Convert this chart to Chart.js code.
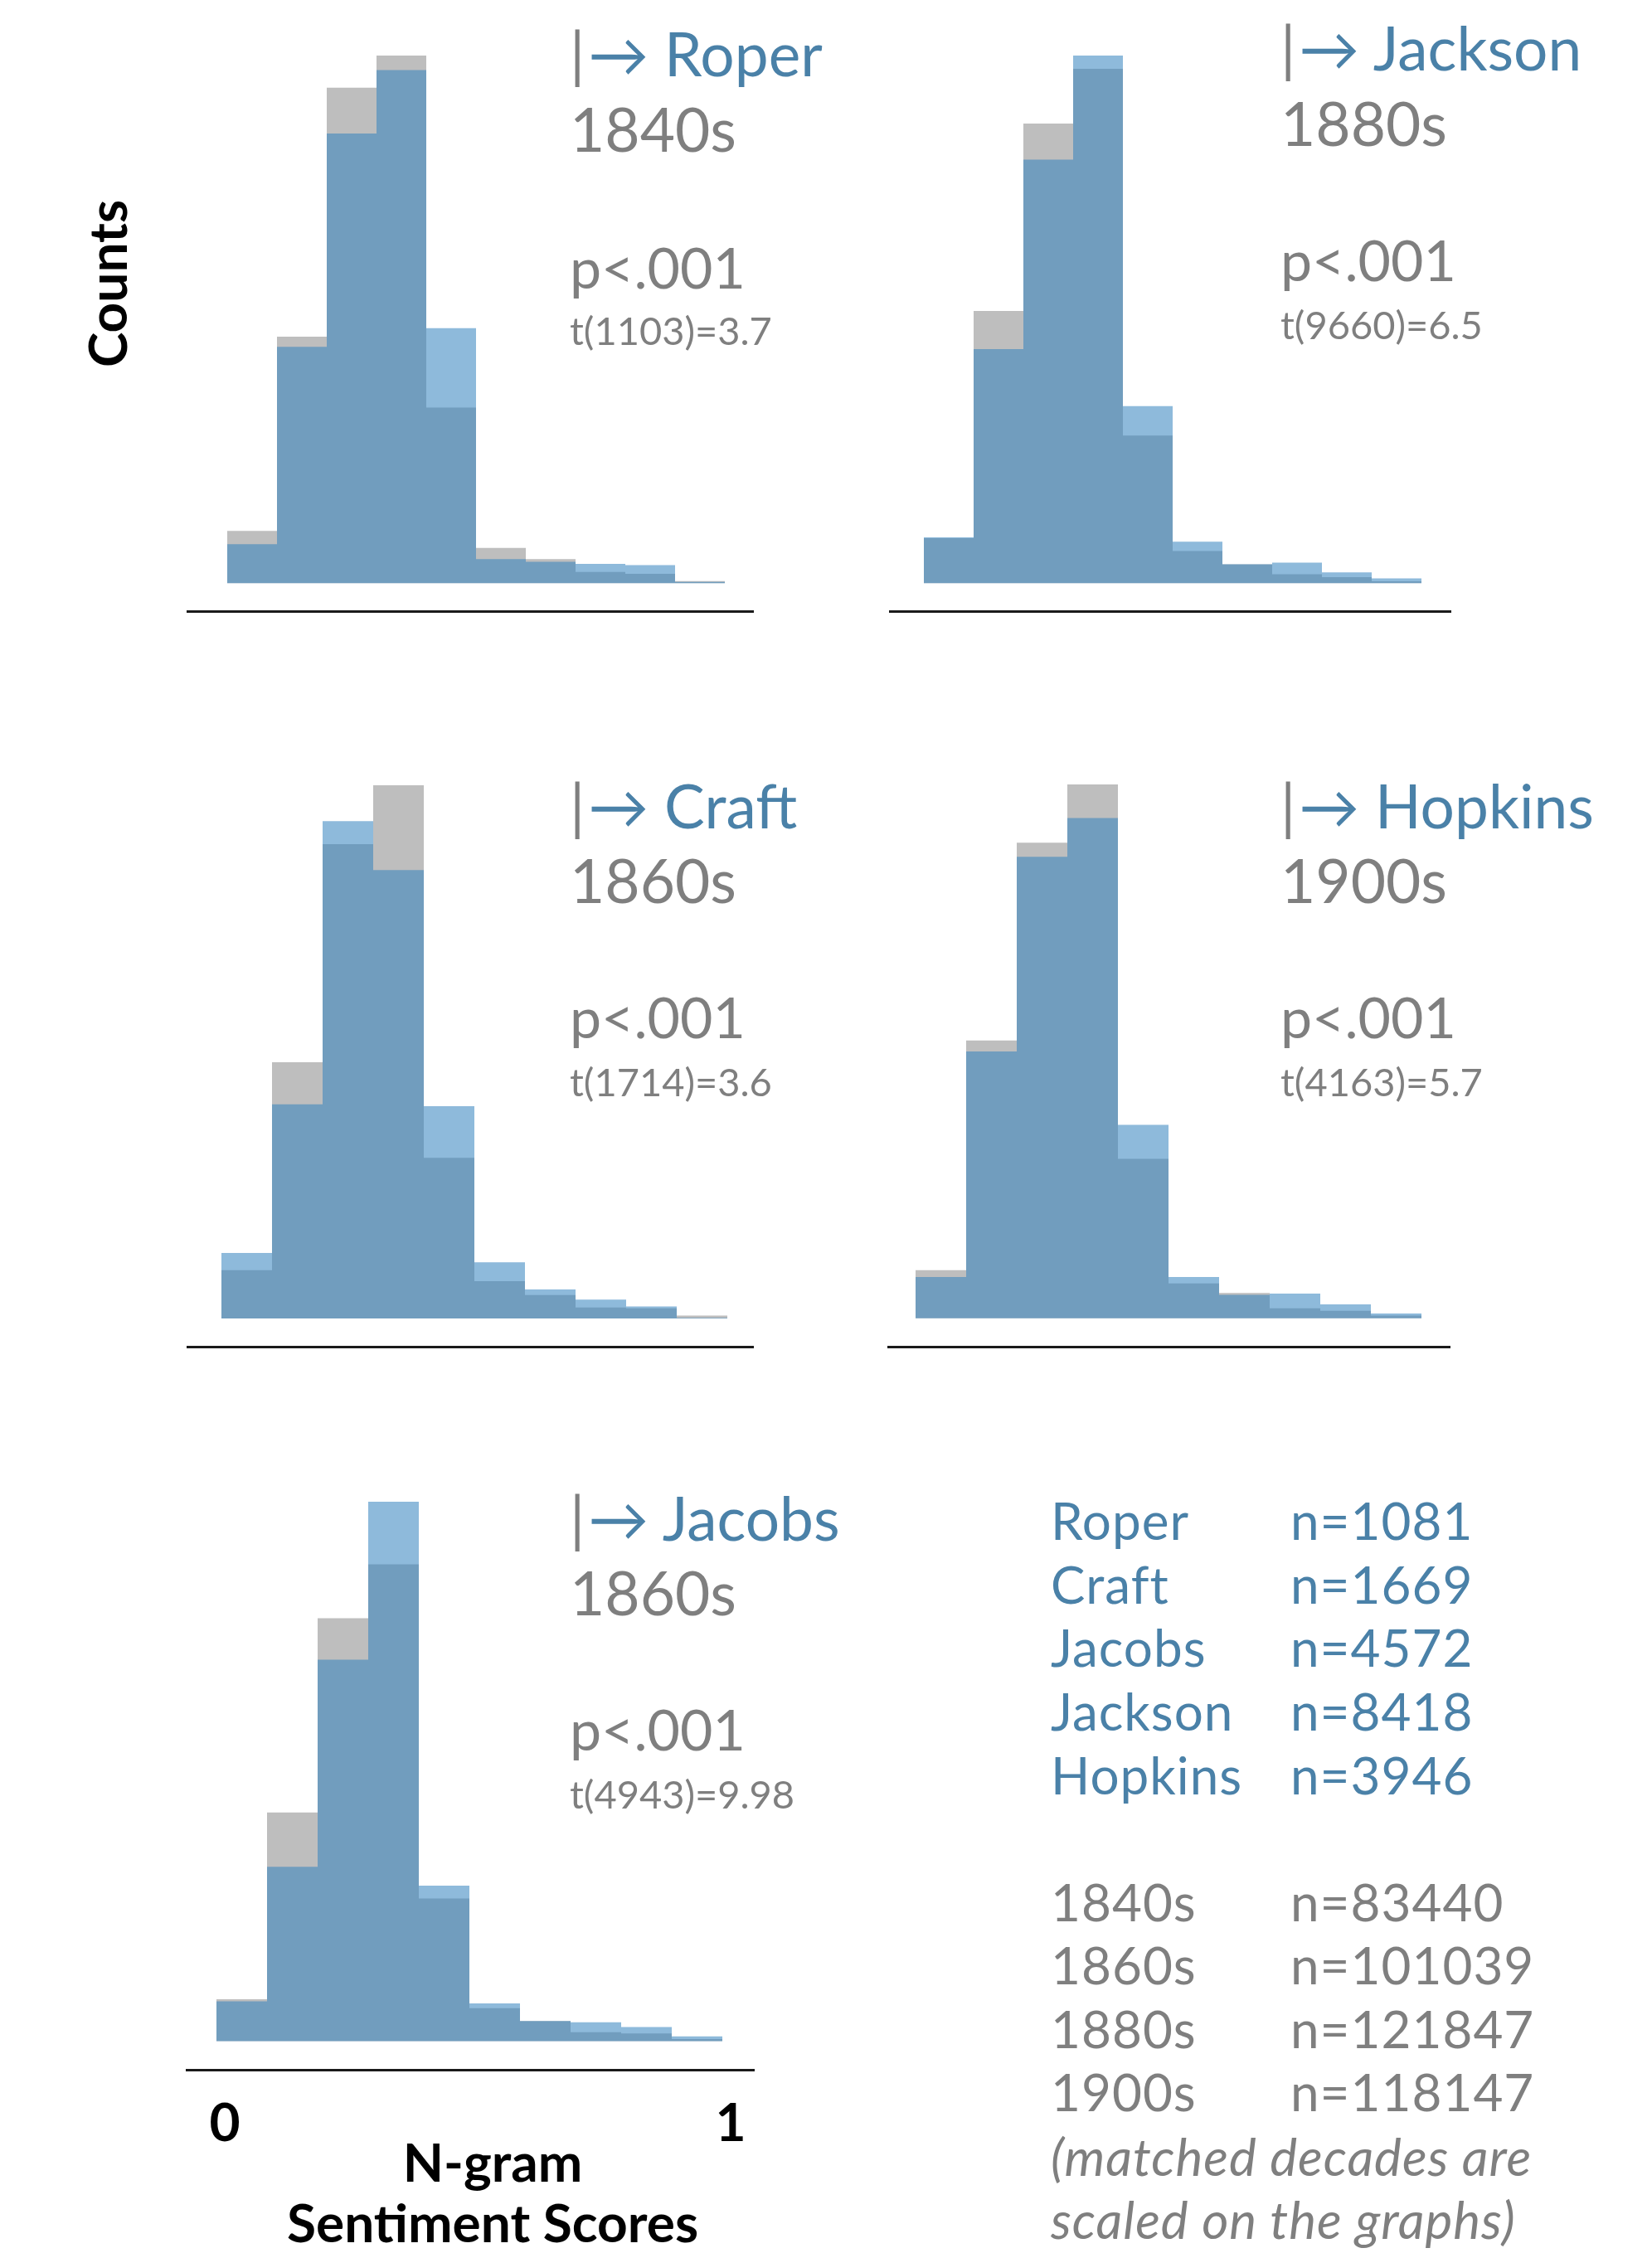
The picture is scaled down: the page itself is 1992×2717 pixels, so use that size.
<!DOCTYPE html>
<html>
<head>
<meta charset="utf-8">
<script src="https://cdn.jsdelivr.net/npm/chart.js@4.4.1/dist/chart.umd.min.js"></script>
<style>
  html, body { margin: 0; padding: 0; background: #fff; }
  #page { position: relative; width: 1992px; height: 2717px; overflow: hidden; font-family: Lato, 'DejaVu Sans', sans-serif; }
  #page canvas { position: absolute; }
  .txt { position: absolute; white-space: nowrap; line-height: 1; }
</style>
</head>
<body>
<div id="page"></div>
<script>
// histogram bins: 10 bins over the sentiment score range 0..1 (bin centres)
const BIN_MIDS = [0.05, 0.15, 0.25, 0.35, 0.45, 0.55, 0.65, 0.75, 0.85, 0.95];

// share of n-grams per bin (%), author vs matched decade (scaled)
const ROPER_AUTHOR = [2.47, 14.99, 28.51, 32.53, 16.17, 1.53, 1.35, 1.22, 1.15, 0.08];
const ROPER_DECADE = [3.31, 15.63, 31.41, 33.45, 11.14, 2.24, 1.53, 0.71, 0.59, 0.13];
const JACKSON_AUTHOR = [3.04, 15.54, 28.12, 35.03, 11.75, 2.75, 1.25, 1.36, 0.72, 0.32];
const JACKSON_DECADE = [2.99, 18.08, 30.52, 34.15, 9.80, 2.14, 1.25, 0.59, 0.40, 0.13];
const CRAFT_AUTHOR = [4.21, 13.76, 31.98, 28.83, 13.65, 3.61, 1.86, 1.21, 0.77, 0.03];
const CRAFT_DECADE = [3.10, 16.47, 30.49, 34.28, 10.33, 2.40, 1.50, 0.70, 0.65, 0.18];
const HOPKINS_AUTHOR = [2.63, 16.96, 29.33, 31.78, 12.29, 2.63, 1.50, 1.58, 0.89, 0.31];
const HOPKINS_DECADE = [3.06, 17.65, 30.22, 33.92, 10.13, 2.22, 1.61, 0.64, 0.48, 0.18];
const JACOBS_AUTHOR = [2.87, 12.59, 27.54, 38.94, 11.23, 2.73, 1.45, 1.36, 1.02, 0.35];
const JACOBS_DECADE = [3.02, 16.51, 30.53, 34.42, 10.30, 2.38, 1.45, 0.64, 0.55, 0.15];

// panel labels, in drawing order (Roper, Jackson, Craft, Hopkins, Jacobs)
const AUTHORS = ['Roper', 'Jackson', 'Craft', 'Hopkins', 'Jacobs'];
const DECADES = ['1840s', '1880s', '1860s', '1900s', '1860s'];
const P_VALUES = ['p<.001', 'p<.001', 'p<.001', 'p<.001', 'p<.001'];
const T_STATS = ['t(1103)=3.7', 't(9660)=6.5', 't(1714)=3.6', 't(4163)=5.7', 't(4943)=9.98'];

// sample sizes table
const LEGEND_AUTHORS = ['Roper', 'Craft', 'Jacobs', 'Jackson', 'Hopkins'];
const LEGEND_AUTHOR_N = [1081, 1669, 4572, 8418, 3946];
const LEGEND_DECADES = ['1840s', '1860s', '1880s', '1900s'];
const LEGEND_DECADE_N = [83440, 101039, 121847, 118147];
const NOTE_LINES = ['(matched decades are', 'scaled on the graphs)'];

const X_TICKS = [0, 1];
const X_TITLE = ['N-gram', 'Sentiment Scores'];
const Y_TITLE = 'Counts';

const SERIES = [
  [ROPER_AUTHOR, ROPER_DECADE],
  [JACKSON_AUTHOR, JACKSON_DECADE],
  [CRAFT_AUTHOR, CRAFT_DECADE],
  [HOPKINS_AUTHOR, HOPKINS_DECADE],
  [JACOBS_AUTHOR, JACOBS_DECADE],
];

const BLUE_FILL = 'rgba(49,130,189,0.55)';
const GRAY_FILL = 'rgb(190,190,190)';
const TEXT_BLUE = '#4a81a8';
const TEXT_GRAY = '#7f7f7f';
const ASC = 0.887; // Lato baseline offset for line-height:1

// where each panel sits on the page; zeroPx = pixel of score 0 inside the plot, binPx = bin width
const LAYOUT = [
  { left: 225, top: 67, width: 684, plotH: 670, zeroPx: 49, binPx: 60, textX: 687, base: [93, 184, 348, 417] },
  { left: 1072, top: 67, width: 678, plotH: 670, zeroPx: 42, binPx: 60, textX: 1544, base: [86, 177, 339, 410] },
  { left: 225, top: 947, width: 684, plotH: 677, zeroPx: 42, binPx: 61, textX: 687, base: [1000, 1090, 1252, 1323] },
  { left: 1070, top: 946, width: 679, plotH: 678, zeroPx: 34, binPx: 61, textX: 1544, base: [1000, 1090, 1252, 1323] },
  { left: 224, top: 1811, width: 686, plotH: 685, zeroPx: 37, binPx: 61, textX: 687, base: [1859, 1949, 2111, 2182], ticks: true },
];

const page = document.getElementById('page');

function addText(x, baseline, content, size, color, extra) {
  const d = document.createElement('div');
  d.className = 'txt';
  d.style.left = x + 'px';
  d.style.top = (baseline - ASC * size) + 'px';
  d.style.fontSize = size + 'px';
  d.style.color = color;
  if (extra) Object.assign(d.style, extra);
  if (typeof content === 'string') d.textContent = content;
  else content.forEach((el) => d.appendChild(el));
  page.appendChild(d);
  return d;
}

function span(text, color, extra) {
  const s = document.createElement('span');
  s.textContent = text;
  s.style.color = color;
  if (extra) Object.assign(s.style, extra);
  return s;
}

function toPoints(values) {
  return BIN_MIDS.map((x, k) => ({ x, y: values[k] }));
}

function makePanel(i) {
  const L = LAYOUT[i];
  const [author, decade] = SERIES[i];
  const axisH = L.ticks ? 110 : 6;
  const unitPx = L.binPx * 10;
  const cv = document.createElement('canvas');
  cv.width = L.width;
  cv.height = L.plotH + axisH;
  cv.style.left = L.left + 'px';
  cv.style.top = L.top + 'px';
  cv.style.width = L.width + 'px';
  cv.style.height = (L.plotH + axisH) + 'px';
  page.appendChild(cv);

  const peak = Math.max(...author, ...decade);

  new Chart(cv, {
    type: 'bar',
    data: {
      datasets: [
        { label: AUTHORS[i], data: toPoints(author), backgroundColor: BLUE_FILL, borderWidth: 0, inflateAmount: 0, grouped: false, order: 0 },
        { label: DECADES[i], data: toPoints(decade), backgroundColor: GRAY_FILL, borderWidth: 0, inflateAmount: 0, grouped: false, order: 1 },
      ],
    },
    options: {
      responsive: false,
      animation: false,
      devicePixelRatio: 1,
      layout: { padding: 0 },
      categoryPercentage: 1,
      barPercentage: 1,
      plugins: { legend: { display: false }, tooltip: { enabled: false } },
      scales: {
        x: {
          type: 'linear',
          offset: false,
          min: -L.zeroPx / unitPx,
          max: (L.width - L.zeroPx) / unitPx,
          grid: { display: false, drawTicks: false },
          border: { display: true, color: '#1a1a1a', width: 3 },
          afterBuildTicks: (s) => { s.ticks = X_TICKS.map((v) => ({ value: v })); },
          afterFit: (s) => { s.height = axisH; s.paddingLeft = 0; s.paddingRight = 0; },
          ticks: {
            display: !!L.ticks,
            padding: 27,
            labelOffset: 10,
            maxRotation: 0,
            autoSkip: false,
            color: '#000',
            font: { family: 'Lato', weight: 'bold', size: 64 },
          },
        },
        y: { display: false, min: -0.053 * peak, max: peak },
      },
    },
  });

  // panel annotations
  addText(L.textX, L.base[0], [span('|', TEXT_GRAY), span('\u2192 ' + AUTHORS[i], TEXT_BLUE, { marginLeft: '4px' })], 73, TEXT_BLUE);
  addText(L.textX, L.base[1], DECADES[i], 73, TEXT_GRAY);
  addText(L.textX, L.base[2], P_VALUES[i], 68, TEXT_GRAY);
  addText(L.textX, L.base[3], T_STATS[i], 47, TEXT_GRAY);
}

AUTHORS.forEach((_, i) => makePanel(i));

// y axis title
const yt = document.createElement('div');
yt.className = 'txt';
yt.textContent = Y_TITLE;
Object.assign(yt.style, {
  left: '129px', top: '342px', fontSize: '64px', fontWeight: 'bold', color: '#000',
  transform: 'translate(-50%,-50%) rotate(-90deg)',
});
page.appendChild(yt);

// x axis title under the Jacobs panel
[2632, 2705].forEach((b, k) => {
  addText(594, b, X_TITLE[k], 64, '#000', { fontWeight: 'bold', transform: 'translateX(-50%)' });
});

// sample size table
const ROW_AUTHOR = [1857, 1934, 2010, 2087, 2164];
const ROW_DECADE = [2317, 2393, 2470, 2546];
const TABLE_STYLE = { letterSpacing: '1px' };
LEGEND_AUTHORS.forEach((name, k) => {
  addText(1267, ROW_AUTHOR[k], name, 62, TEXT_BLUE, TABLE_STYLE);
  addText(1556, ROW_AUTHOR[k], 'n=' + LEGEND_AUTHOR_N[k], 62, TEXT_BLUE, TABLE_STYLE);
});
LEGEND_DECADES.forEach((dec, k) => {
  addText(1267, ROW_DECADE[k], dec, 62, TEXT_GRAY, TABLE_STYLE);
  addText(1556, ROW_DECADE[k], 'n=' + LEGEND_DECADE_N[k], 62, TEXT_GRAY, TABLE_STYLE);
});
NOTE_LINES.forEach((line, k) => {
  addText(1267, [2624, 2700][k], line, 62, TEXT_GRAY, { fontStyle: 'italic', letterSpacing: '1px' });
});
</script>
</body>
</html>
